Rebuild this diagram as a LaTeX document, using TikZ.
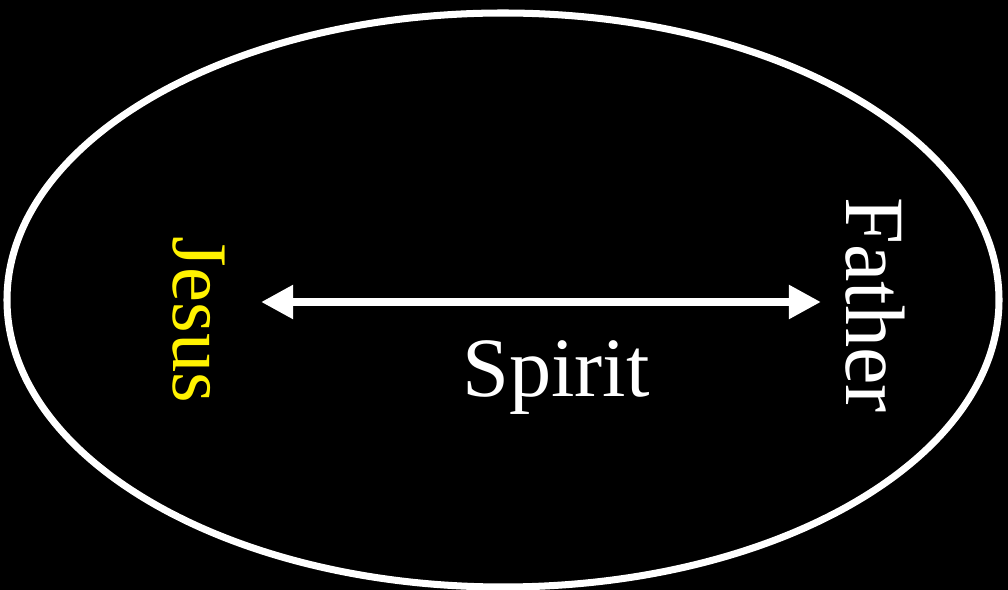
\documentclass[tikz,border=0pt]{standalone}
\usepackage{fontspec}
\setmainfont{Liberation Serif}
\usetikzlibrary{arrows.meta, positioning}

\begin{document}
\begin{tikzpicture}[
      x=0.025cm, y=-0.025cm,
      person/.style={inner sep=0pt, font=\fontsize{60}{70}\selectfont, text=white},
      arr/.style={{Triangle[length=22.8pt, width=22.8pt]}-{Triangle[length=22.8pt, width=22.8pt]}, line width=5.7pt, white}
    ]
    \fill[black] (0,0) rectangle (1008,590);
    \useasboundingbox (0,0) rectangle (1008,590);
    \draw[white, line width=5pt] (503,300) ellipse [x radius=496, y radius=287];

    \node[person, rotate=-90, text=yellow, font=\fontsize{56}{66}\selectfont] (jesus) at (199,320) {Jesus};
    \node[person, rotate=-90] (father) at (875,305) {Father};
    \node[person] (spirit) at (556,378) {Spirit};

    \coordinate (left) at (261,302);
    \coordinate (right) at (821,302);
    \draw[arr] (left) -- (right);
  \end{tikzpicture}
\end{document}
